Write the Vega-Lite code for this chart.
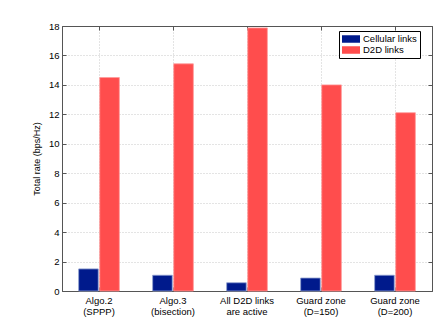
{
  "$schema": "https://vega.github.io/schema/vega-lite/v6.json",
  "autosize": "none",
  "width": 370,
  "height": 265,
  "padding": {"left": 62, "top": 26, "right": 4, "bottom": 36},
  "background": "white",
  "config": {
    "font": "Liberation Sans",
    "view": {"stroke": "#555", "strokeWidth": 1}
  },
  "data": {
    "values": [
      {"cat": "Algo.2|(SPPP)", "series": "Cellular links", "rate": 1.5},
      {"cat": "Algo.2|(SPPP)", "series": "D2D links", "rate": 14.5},
      {"cat": "Algo.3|(bisection)", "series": "Cellular links", "rate": 1.07},
      {"cat": "Algo.3|(bisection)", "series": "D2D links", "rate": 15.43},
      {"cat": "All D2D links|are active", "series": "Cellular links", "rate": 0.56},
      {"cat": "All D2D links|are active", "series": "D2D links", "rate": 17.87},
      {"cat": "Guard zone|(D=150)", "series": "Cellular links", "rate": 0.88},
      {"cat": "Guard zone|(D=150)", "series": "D2D links", "rate": 14.0},
      {"cat": "Guard zone|(D=200)", "series": "Cellular links", "rate": 1.07},
      {"cat": "Guard zone|(D=200)", "series": "D2D links", "rate": 12.11}
    ]
  },
  "resolve": {"axis": {"x": "independent", "y": "independent"}},
  "layer": [
    {
      "mark": {"type": "bar", "strokeWidth": 0.8},
      "encoding": {
        "x": {
          "field": "cat",
          "type": "nominal",
          "sort": null,
          "scale": {"paddingInner": 0.45, "paddingOuter": 0.225},
          "axis": {
            "title": null,
            "labelAngle": 0,
            "labelExpr": "split(datum.label, '|')",
            "labelFontSize": 9.5,
            "labelColor": "#000",
            "labelPadding": 8,
            "labelLineHeight": 11,
            "tickSize": -4,
            "tickColor": "#555",
            "domainColor": "#555",
            "grid": true,
            "gridDash": [1, 2],
            "gridColor": "#c8c8c8"
          }
        },
        "xOffset": {
          "field": "series",
          "type": "nominal",
          "scale": {"paddingInner": 0.07}
        },
        "y": {
          "field": "rate",
          "type": "quantitative",
          "scale": {"domain": [0, 18], "nice": false},
          "axis": {
            "title": "Total rate (bps/Hz)",
            "titleFontSize": 9,
            "titleFontWeight": "normal",
            "titleColor": "#000",
            "titlePadding": 7,
            "values": [0, 2, 4, 6, 8, 10, 12, 14, 16, 18],
            "labelFontSize": 9.5,
            "labelColor": "#000",
            "labelPadding": 7,
            "tickSize": -4,
            "tickColor": "#555",
            "domainColor": "#555",
            "grid": true,
            "gridDash": [1, 2],
            "gridColor": "#c8c8c8"
          }
        },
        "color": {
          "field": "series",
          "type": "nominal",
          "scale": {"domain": ["Cellular links", "D2D links"], "range": ["#001a8c", "#ff4d4d"]},
          "legend": {
            "title": null,
            "orient": "none",
            "legendX": 277,
            "legendY": 5,
            "fillColor": "white",
            "strokeColor": "#000",
            "padding": 3,
            "rowPadding": 1,
            "labelFontSize": 9.5,
            "labelColor": "#000",
            "labelOffset": 7,
            "symbolOffset": 4,
            "symbolType": "M-1.8,-0.75H1.8V0.75H-1.8Z",
            "symbolSize": 100,
            "symbolStrokeWidth": 0,
            "symbolOpacity": 1
          }
        },
        "stroke": {
          "field": "series",
          "type": "nominal",
          "scale": {"domain": ["Cellular links", "D2D links"], "range": ["#8f9fd0", "#ff9a9a"]},
          "legend": null
        }
      }
    },
    {
      "mark": {"type": "bar", "opacity": 0},
      "encoding": {
        "x": {
          "field": "cat",
          "type": "nominal",
          "sort": null,
          "axis": {
            "orient": "top",
            "title": null,
            "labels": false,
            "tickSize": -4,
            "tickColor": "#555",
            "domainColor": "#555",
            "grid": false
          }
        },
        "xOffset": {"field": "series", "type": "nominal"},
        "y": {
          "field": "rate",
          "type": "quantitative",
          "axis": {
            "orient": "right",
            "title": null,
            "labels": false,
            "values": [0, 2, 4, 6, 8, 10, 12, 14, 16, 18],
            "tickSize": -4,
            "tickColor": "#555",
            "domainColor": "#555",
            "grid": false
          }
        }
      }
    }
  ]
}
